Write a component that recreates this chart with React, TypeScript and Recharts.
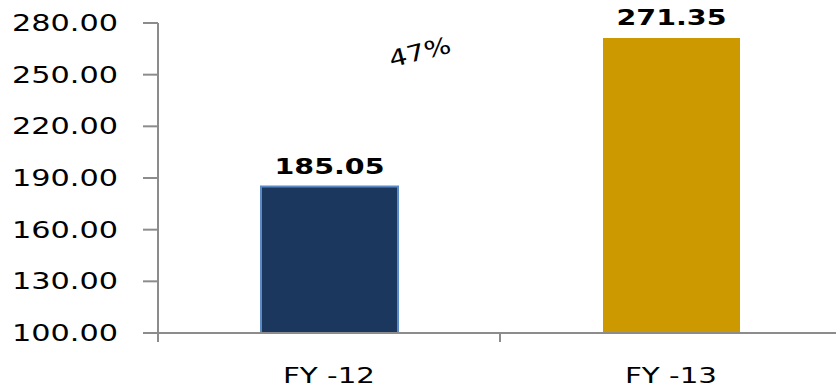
import React from 'react';
import { BarChart, Bar, XAxis, YAxis, LabelList, Cell } from 'recharts';

// Fiscal-year values
const categories = ['FY -12', 'FY -13'];
const values = [185.05, 271.35];
const yTicks = [100, 130, 160, 190, 220, 250, 280];
const barFills = ['#1B375E', '#CC9900'];
const barStrokes = ['#5B8BC7', '#CC9900'];

const data = categories.map((name, i) => ({ name, value: values[i] }));
const growthPct = Math.round((values[1] / values[0] - 1) * 100);

const W = 842;
const H = 388;
const MARGIN = { top: 23, right: 0, bottom: 10, left: 0 };
const Y_AXIS_W = 158;
const X_AXIS_H = 45;
const PLOT_W = W - MARGIN.left - MARGIN.right - Y_AXIS_W;
const BAND = PLOT_W / categories.length;
const AXIS_Y = H - MARGIN.bottom - X_AXIS_H;
const FONT = '"DejaVu Sans", Verdana, sans-serif';
const GREY = '#8C8C8C';

const YTick = (props: any) => {
  const { x, y, payload } = props;
  const label = Number(payload.value).toFixed(2);
  return (
    <text
      x={x}
      y={y + 8}
      textAnchor="end"
      fontFamily={FONT}
      fontSize={23}
      fill="#000"
      textLength={106}
      lengthAdjust="spacingAndGlyphs"
    >
      {label}
    </text>
  );
};

const XTick = (props: any) => {
  const { x, payload } = props;
  const left = x - BAND / 2;
  return (
    <g>
      <line x1={left} x2={left} y1={AXIS_Y} y2={AXIS_Y + 9} stroke={GREY} strokeWidth={2} />
      <text
        x={x}
        y={AXIS_Y + 50}
        textAnchor="middle"
        fontFamily={FONT}
        fontSize={21}
        fill="#000"
        textLength={92}
        lengthAdjust="spacingAndGlyphs"
      >
        {payload.value}
      </text>
    </g>
  );
};

const ValueLabel = (props: any) => {
  const { x, y, width, value } = props;
  return (
    <text
      x={x + width / 2}
      y={y - 13}
      textAnchor="middle"
      fontFamily={FONT}
      fontWeight="bold"
      fontSize={22}
      fill="#000"
      textLength={110}
      lengthAdjust="spacingAndGlyphs"
    >
      {Number(value).toFixed(2)}
    </text>
  );
};

export default function App() {
  return (
    <div style={{ position: 'absolute', left: 0, top: 0, width: 836, height: H, overflow: 'hidden', background: '#fff' }}>
      <BarChart width={W} height={H} data={data} margin={MARGIN}>
        <XAxis
          dataKey="name"
          height={X_AXIS_H}
          axisLine={{ stroke: GREY, strokeWidth: 2 }}
          tickLine={false}
          tick={<XTick />}
          interval={0}
        />
        <YAxis
          width={Y_AXIS_W}
          domain={[100, 280]}
          ticks={yTicks}
          allowDataOverflow
          axisLine={{ stroke: GREY, strokeWidth: 2 }}
          tickLine={{ stroke: GREY, strokeWidth: 2 }}
          tickSize={15}
          tickMargin={25}
          tick={<YTick />}
        />
        <Bar dataKey="value" barSize={137} isAnimationActive={false}>
          {data.map((d, i) => (
            <Cell key={d.name} fill={barFills[i]} stroke={barStrokes[i]} strokeWidth={i === 0 ? 2 : 0} />
          ))}
          <LabelList dataKey="value" content={<ValueLabel />} />
        </Bar>
      </BarChart>
      <div
        style={{
          position: 'absolute',
          left: 420,
          top: 52,
          transform: 'translate(-50%, -50%) rotate(-14deg)',
          fontFamily: FONT,
          fontSize: 22,
          color: '#000',
          whiteSpace: 'nowrap',
        }}
      >
        <svg width={70} height={30} style={{ display: 'block', overflow: 'visible' }}>
          <text x={35} y={23} textAnchor="middle" fontFamily={FONT} fontSize={23} textLength={63} lengthAdjust="spacingAndGlyphs">
            {`${growthPct}%`}
          </text>
        </svg>
      </div>
    </div>
  );
}
